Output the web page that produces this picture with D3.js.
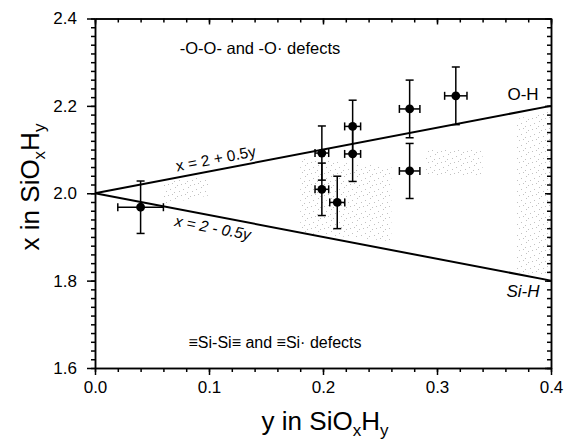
<!DOCTYPE html>
<html>
<head>
<meta charset="utf-8">
<script src="https://cdn.jsdelivr.net/npm/d3@7"></script>
<style>
  body { margin: 0; background: #fff; }
  svg { font-family: "Liberation Sans", Arial, Helvetica, sans-serif; }
  .axis path, .axis line { stroke: #000; stroke-width: 1.5; }
  .axis text { font-size: 17px; fill: #000; }
</style>
</head>
<body>
<svg width="564" height="445"></svg>
<script>
// H content y, O content x, and their error bars
var hContent = [0.040, 0.199, 0.199, 0.2125, 0.226, 0.226, 0.276, 0.276, 0.3165];
var oContent = [1.968, 2.092, 2.009, 1.979, 2.153, 2.090, 2.193, 2.051, 2.223];
var hErr = [0.020, 0.006, 0.006, 0.0066, 0.007, 0.007, 0.009, 0.009, 0.0098];
var oErr = [0.060, 0.062, 0.060, 0.060, 0.060, 0.063, 0.066, 0.063, 0.066];

// bounding lines x = 2 +/- 0.5y
var lineY = [0, 0.4];
var upperX = [2.0, 2.2];
var lowerX = [2.0, 1.8];

var xMajor = [0, 0.1, 0.2, 0.3, 0.4];
var yMajor = [1.6, 1.8, 2.0, 2.2, 2.4];

// faint stippled areas (y, x corners)
var stippleZones = [
  [[0.06, 1.975], [0.10, 1.995], [0.10, 2.04], [0.06, 2.025]],
  [[0.18, 1.91], [0.26, 1.89], [0.26, 2.06], [0.18, 2.08]],
  [[0.29, 2.04], [0.34, 2.04], [0.34, 2.10], [0.29, 2.10]],
  [[0.37, 1.82], [0.40, 1.81], [0.40, 2.19], [0.37, 2.17]]
];
// dot positions inside one stipple tile (13 x 11 px)
var stippleDots = [[1, 2], [6, 0], [10, 4], [3, 7], [8, 9], [12, 8], [5, 5]];

var svg = d3.select("svg");
var x = d3.scaleLinear().domain([0, 0.4]).range([95, 551]);
var y = d3.scaleLinear().domain([1.6, 2.4]).range([368, 18.5]);

var xMinor = d3.range(0, 0.401, 0.02);
var yMinor = d3.range(1.6, 2.401, 0.02);

// stipple pattern
var pat = svg.append("defs").append("pattern")
  .attr("id", "stip").attr("width", 13).attr("height", 11)
  .attr("patternUnits", "userSpaceOnUse");
pat.selectAll("rect").data(stippleDots).enter().append("rect")
  .attr("x", function (d) { return d[0]; })
  .attr("y", function (d) { return d[1]; })
  .attr("width", 1).attr("height", 1)
  .attr("fill", "#999");

svg.append("g").selectAll("path")
  .data(stippleZones)
  .enter()
  .append("path")
  .attr("d", function (d) {
    return "M" + d.map(function (p) { return x(p[0]) + "," + y(p[1]); }).join("L") + "Z";
  })
  .attr("fill", "url(#stip)")
  .attr("opacity", 0.6);

// axes: minor ticks first, then major with labels
function addAxis(axis, transform) {
  svg.append("g").attr("class", "axis").attr("transform", transform).call(axis);
}
addAxis(d3.axisBottom(x).tickValues(xMinor).tickSize(4).tickSizeOuter(0).tickFormat(""), "translate(0,368)");
addAxis(d3.axisBottom(x).tickValues(xMajor).tickSize(7).tickSizeOuter(0).tickPadding(6).tickFormat(d3.format(".1f")), "translate(0,368)");
addAxis(d3.axisTop(x).tickValues(xMinor).tickSize(-4).tickSizeOuter(0).tickFormat(""), "translate(0,18.5)");
addAxis(d3.axisTop(x).tickValues(xMajor).tickSize(-6).tickSizeOuter(0).tickFormat(""), "translate(0,18.5)");
addAxis(d3.axisLeft(y).tickValues(yMinor).tickSize(4).tickSizeOuter(0).tickFormat(""), "translate(95,0)");
addAxis(d3.axisLeft(y).tickValues(yMajor).tickSize(8).tickSizeOuter(0).tickPadding(10).tickFormat(d3.format(".1f")), "translate(95,0)");
addAxis(d3.axisRight(y).tickValues(yMinor).tickSize(-4).tickSizeOuter(0).tickFormat(""), "translate(551,0)");
addAxis(d3.axisRight(y).tickValues(yMajor).tickSize(-6).tickSizeOuter(0).tickFormat(""), "translate(551,0)");

// bounding lines
var line = d3.line().x(function (d) { return x(d[0]); }).y(function (d) { return y(d[1]); });
[upperX, lowerX].forEach(function (vals) {
  svg.append("path")
    .datum(lineY.map(function (h, i) { return [h, vals[i]]; }))
    .attr("d", line)
    .attr("fill", "none")
    .attr("stroke", "#000")
    .attr("stroke-width", 2);
});

// error bars
var pts = hContent.map(function (h, i) {
  return { h: h, o: oContent[i], eh: hErr[i], eo: oErr[i] };
});
var eb = svg.append("g").attr("stroke", "#000").attr("stroke-width", 1.5);
var cap = 4;
pts.forEach(function (d) {
  var cx = x(d.h), cy = y(d.o);
  var y1 = y(d.o + d.eo), y2 = y(d.o - d.eo);
  var x1 = x(d.h - d.eh), x2 = x(d.h + d.eh);
  eb.append("line").attr("x1", cx).attr("x2", cx).attr("y1", y1).attr("y2", y2);
  eb.append("line").attr("x1", cx - cap).attr("x2", cx + cap).attr("y1", y1).attr("y2", y1);
  eb.append("line").attr("x1", cx - cap).attr("x2", cx + cap).attr("y1", y2).attr("y2", y2);
  eb.append("line").attr("x1", x1).attr("x2", x2).attr("y1", cy).attr("y2", cy);
  eb.append("line").attr("x1", x1).attr("x2", x1).attr("y1", cy - cap).attr("y2", cy + cap);
  eb.append("line").attr("x1", x2).attr("x2", x2).attr("y1", cy - cap).attr("y2", cy + cap);
});

svg.append("g").selectAll("circle")
  .data(pts)
  .enter()
  .append("circle")
  .attr("cx", function (d) { return x(d.h); })
  .attr("cy", function (d) { return y(d.o); })
  .attr("r", 4.4)
  .attr("fill", "#000");

// line labels rotated along the lines
var ang = Math.atan2(y(upperX[1]) - y(upperX[0]), x(lineY[1]) - x(lineY[0])) * 180 / Math.PI;
function lineLabel(txt, h, xv, a, dy, italic) {
  svg.append("text")
    .attr("transform", "translate(" + x(h) + "," + y(xv) + ") rotate(" + a + ")")
    .attr("dy", dy)
    .attr("font-size", 15.5)
    .style("font-style", italic ? "italic" : "normal")
    .text(txt);
}
lineLabel("x = 2 + 0.5y", 0.073, 2 + 0.5 * 0.073, ang, -6, false);
lineLabel("x = 2 - 0.5y", 0.072, 2 - 0.5 * 0.072, -ang, 17, true);

// annotations
function note(txt, px, py, size, anchor, italic) {
  svg.append("text")
    .attr("x", px).attr("y", py)
    .attr("font-size", size)
    .attr("text-anchor", anchor)
    .style("font-style", italic ? "italic" : "normal")
    .text(txt);
}
note("-O-O- and -O\u00b7 defects", 260, 54, 16.5, "middle", false);
note("\u2261Si-Si\u2261 and \u2261Si\u00b7 defects", 275, 348, 16, "middle", false);
note("O-H", 523, 100, 17, "middle", false);
note("Si-H", 523, 297, 17, "middle", true);

// axis titles with subscripts
function title(g) {
  g.attr("font-size", 26).attr("text-anchor", "middle");
  var t = g.append("text");
  t.append("tspan").text("in SiO");
  t.append("tspan").attr("font-size", 17).attr("dy", 6).text("x");
  t.append("tspan").attr("dy", -6).text("H");
  t.append("tspan").attr("font-size", 17).attr("dy", 6).text("y");
  return t;
}
var xt = title(svg.append("g").attr("transform", "translate(325,430)"));
xt.insert("tspan", ":first-child").text("y ");
var yt = title(svg.append("g").attr("transform", "translate(38.5,187) rotate(-90)"));
yt.insert("tspan", ":first-child").text("x ");
</script>
</body>
</html>
